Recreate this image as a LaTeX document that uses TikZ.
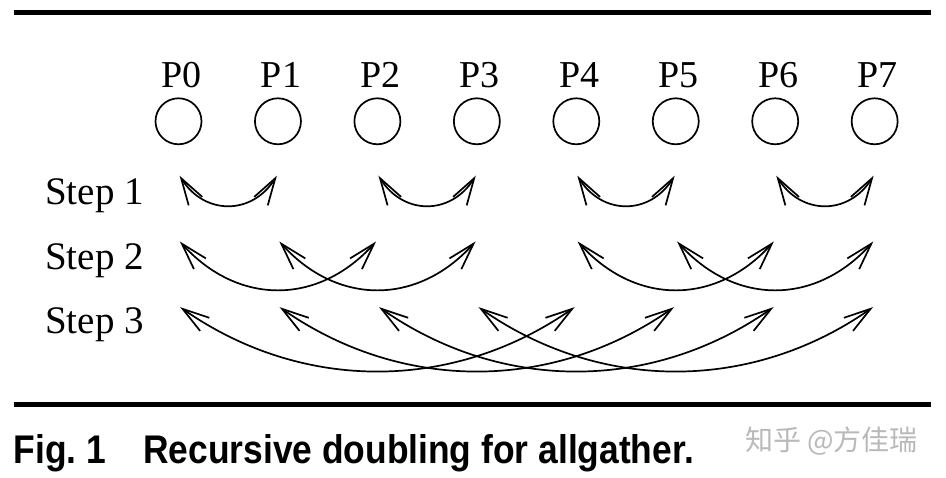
\documentclass[tikz,border=0pt]{standalone}
\usepackage{fontspec}
\setmainfont{Liberation Serif}
\newfontfamily\capfont[FakeStretch=0.885]{Liberation Sans}
\newfontfamily\cjkfont{Noto Sans CJK SC}
\usetikzlibrary{arrows.meta}
\tikzset{
	proc/.style={circle, draw, line width=1.7pt, minimum size=46pt, inner sep=0pt},
	plabel/.style={font=\fontsize{38}{40}\selectfont, inner sep=0pt, anchor=base},
	steplabel/.style={font=\fontsize{39}{40}\selectfont, inner sep=0pt, anchor=base west},
	xchg/.style={line width=1.7pt,
		{Straight Barb[length=27pt,width=16pt]}-{Straight Barb[length=27pt,width=16pt]},
		shorten <=2pt, shorten >=2pt},
}

\begin{document}
\begin{tikzpicture}[x=1pt,y=1pt]
	\useasboundingbox (0,0) rectangle (946,478);
	
	% rules
	\draw[line width=5pt] (14,465.5) -- (931,465.5);
	\draw[line width=5pt] (14,73.5) -- (931,73.5);
	
	\foreach \i in {0,1,...,7}{
		\def\xp{178.5+99.45*\i}
		
		\node[proc] (p\i) at ({\xp},356.7) {};
		\node[plabel] (l\i) at ({\xp+3},390) {P\i};
		
		\coordinate (r1-\i) at ({\xp},304);
		\coordinate (r2-\i) at ({\xp},238);
		\coordinate (r3-\i) at ({\xp},172);
	}
	
	\node[steplabel] (s1) at (45,273) {Step 1};
	\node[steplabel] (s2) at (45,208) {Step 2};
	\node[steplabel] (s3) at (45,144) {Step 3};
	
	% step 1: distance 1
	\foreach \a/\b in {0/1,2/3,4/5,6/7}
		\draw[xchg] (r1-\a) to[out=-58, in=-122, looseness=1.26] (r1-\b);
	
	% step 2: distance 2
	\foreach \a/\b in {0/2,1/3,4/6,5/7}
		\draw[xchg] (r2-\a) to[out=-48, in=-132, looseness=1.14] (r2-\b);
	
	% step 3: distance 4
	\foreach \a/\b in {0/4,1/5,2/6,3/7}
		\draw[xchg] (r3-\a) to[out=-35, in=-145, looseness=0.97] (r3-\b);
	
	\node[anchor=base west, inner sep=0pt, font={\capfont\bfseries\fontsize{40}{42}\selectfont}]
		(cap) at (13.5,14) {Fig.~1\hspace{37pt}Recursive doubling for allgather.};
	
	\node[anchor=west, inner sep=0pt, text=gray!55, font={\cjkfont\fontsize{28}{30}\selectfont}]
		(wm) at (745,37) {知乎 @方佳瑞};
\end{tikzpicture}
\end{document}
